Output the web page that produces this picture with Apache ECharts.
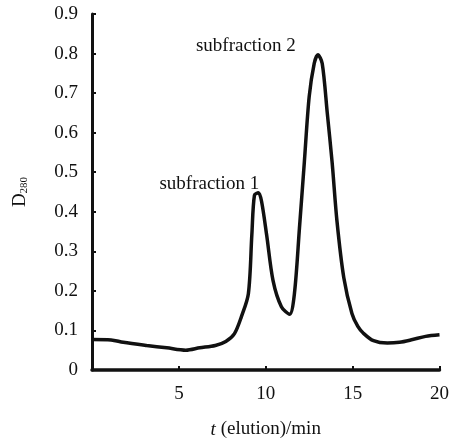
<!DOCTYPE html>
<html><head><meta charset="utf-8">
<script src="https://cdn.jsdelivr.net/npm/echarts@6/dist/echarts.min.js"></script>
<style>html,body{margin:0;padding:0;background:#fff}#c{width:452px;height:444px}</style>
</head><body><div id="c"></div>
<script>
const timeMin = [0.0,1.1,1.8,3.15,4.3,5.4,6.2,7.1,7.7,8.2,8.6,9.0,9.2,9.35,9.58,9.76,10.05,10.42,10.9,11.37,11.65,11.94,12.22,12.5,12.79,13.0,13.25,13.54,13.82,14.1,14.49,14.96,15.3,15.62,16.2,17.0,17.7,18.45,19.2,20.0];
const d280 = [0.077,0.076,0.070,0.062,0.056,0.050,0.056,0.062,0.072,0.092,0.135,0.193,0.342,0.442,0.448,0.426,0.342,0.226,0.160,0.141,0.193,0.359,0.525,0.691,0.775,0.797,0.775,0.650,0.525,0.376,0.234,0.143,0.110,0.093,0.074,0.068,0.070,0.077,0.085,0.089];
const xTicks = [5,10,15,20];
const yTicks = ['0','0.1','0.2','0.3','0.4','0.5','0.6','0.7','0.8','0.9'];
const annotations = [
  {text:'subfraction 1', t:6.75, v:0.47},
  {text:'subfraction 2', t:8.85, v:0.82}
];
const chart = echarts.init(document.getElementById('c'));
const font = 'Liberation Serif';
const fs = 19;
chart.setOption({
  animation:false,
  textStyle:{fontFamily:font},
  grid:{left:92,right:8,top:14,bottom:69},
  xAxis:{type:'value',min:0,max:20,interval:5,
    axisLine:{lineStyle:{color:'#111',width:3.5}},
    axisTick:{inside:true,length:4,lineStyle:{color:'#111',width:2}},
    splitLine:{show:false},
    axisLabel:{fontFamily:font,fontSize:fs,color:'#111',margin:15,
      formatter:v=>xTicks.includes(v)?String(v):''},
    name:'{i|t} (elution)/min',nameLocation:'middle',nameGap:50,
    nameTextStyle:{fontFamily:font,fontSize:fs,color:'#111',
      rich:{i:{fontFamily:font,fontStyle:'italic',fontSize:fs,color:'#111'}}}
  },
  yAxis:{type:'value',min:0,max:0.9,interval:0.1,
    axisLine:{show:true,lineStyle:{color:'#111',width:3}},
    axisTick:{show:true,inside:true,length:4,lineStyle:{color:'#111',width:2}},
    splitLine:{show:false},
    axisLabel:{fontFamily:font,fontSize:fs,color:'#111',margin:14,
      formatter:(v)=>{const i=Math.round(v*10);return yTicks[i]!==undefined?yTicks[i]:'';}},
    name:'{a|D}{b|280}',nameLocation:'middle',nameRotate:90,nameGap:62,
    nameTextStyle:{fontFamily:font,fontSize:fs,color:'#111',
      rich:{a:{fontFamily:font,fontSize:fs,color:'#111'},
            b:{fontFamily:font,fontSize:11,color:'#111',verticalAlign:'bottom',padding:[8,0,0,0]}}}
  },
  series:[{type:'line',data:timeMin.map((t,i)=>[t,d280[i]]),
    showSymbol:false,smooth:0.3,
    lineStyle:{color:'#111',width:3.5},
    markPoint:{symbol:'circle',symbolSize:0,
      label:{show:true,position:'inside',fontFamily:font,fontSize:fs,color:'#111',formatter:p=>p.name},
      data:annotations.map(a=>({name:a.text,coord:[a.t,a.v]}))}
  }]
});
</script></body></html>
